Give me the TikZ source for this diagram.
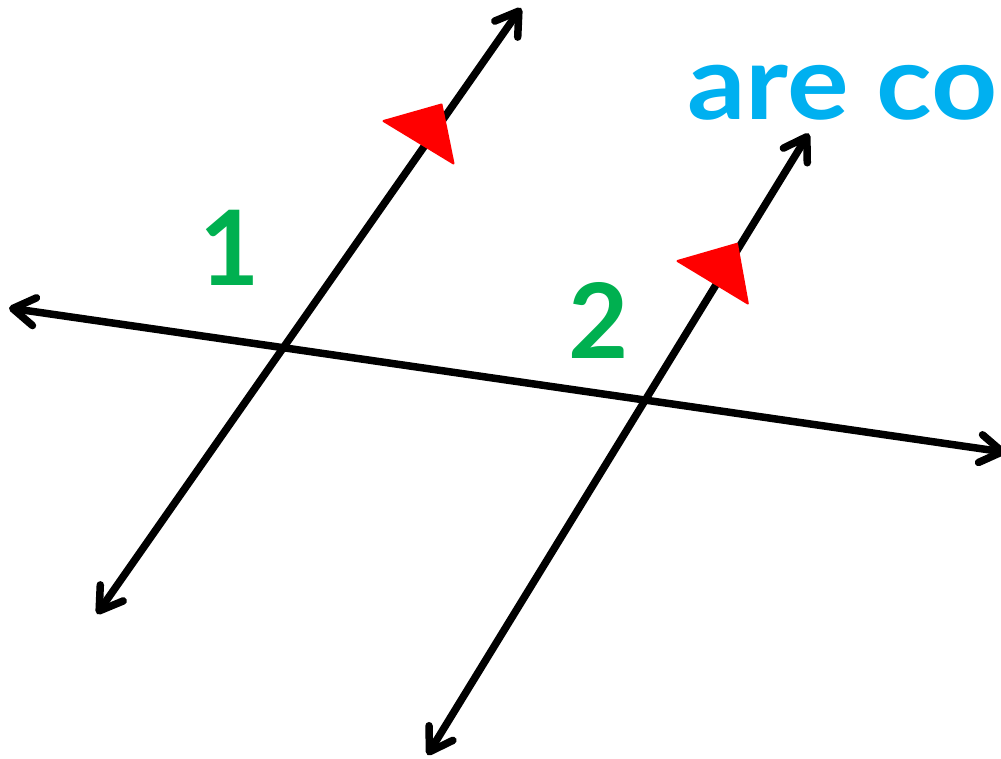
\documentclass[tikz,border=0pt]{standalone}
\usepackage{fontspec}
\setmainfont{Lato}
\usetikzlibrary{arrows.meta}
\definecolor{lgreen}{HTML}{00B050}
\definecolor{lblue}{HTML}{00B0F0}
\definecolor{lred}{HTML}{FF0000}
\begin{document}
\begin{tikzpicture}[x=1pt,y=-1pt,
  lineax/.style={line width=7.5pt, line cap=round,
    {Straight Barb[length=22pt,width=28pt,round]}-{Straight Barb[length=22pt,width=28pt,round]}},
  marker/.style={fill=lred, draw=lred, line width=2pt, line join=round},
  lbl/.style={font=\fontsize{104}{110}\selectfont\bfseries, inner sep=0pt}]
\useasboundingbox (0,0) rectangle (1001,759);
\clip (0,0) rectangle (1001,759);
% end points
\coordinate (tL) at (9,308);
\coordinate (tR) at (1006,452.3);
\coordinate (aB) at (97,614);
\coordinate (aT) at (521,8);
\coordinate (bB) at (427.5,755);
\coordinate (bT) at (808.8,133.5);
% lines
\draw[lineax] (tL) -- (tR);
\draw[lineax] (aB) -- (aT);
\draw[lineax] (bB) -- (bT);
% red markers
\coordinate (m1a) at (383.5,121);
\coordinate (m1b) at (441.5,104.5);
\coordinate (m1c) at (453.5,163.5);
\coordinate (m2a) at (677.5,261);
\coordinate (m2b) at (737,243.8);
\coordinate (m2c) at (747.8,303.5);
\filldraw[marker] (m1a) -- (m1b) -- (m1c) -- cycle;
\filldraw[marker] (m2a) -- (m2b) -- (m2c) -- cycle;
% labels
\node[lbl, text=lgreen, anchor=base] (one) at (229.5,286) {1};
\node[lbl, text=lgreen, anchor=base] (two) at (599,358) {2};
\node[lbl, text=lblue, anchor=base west] (txt) at (687,119.5) {\scalebox{1.11}[1]{are co}};
\end{tikzpicture}
\end{document}
